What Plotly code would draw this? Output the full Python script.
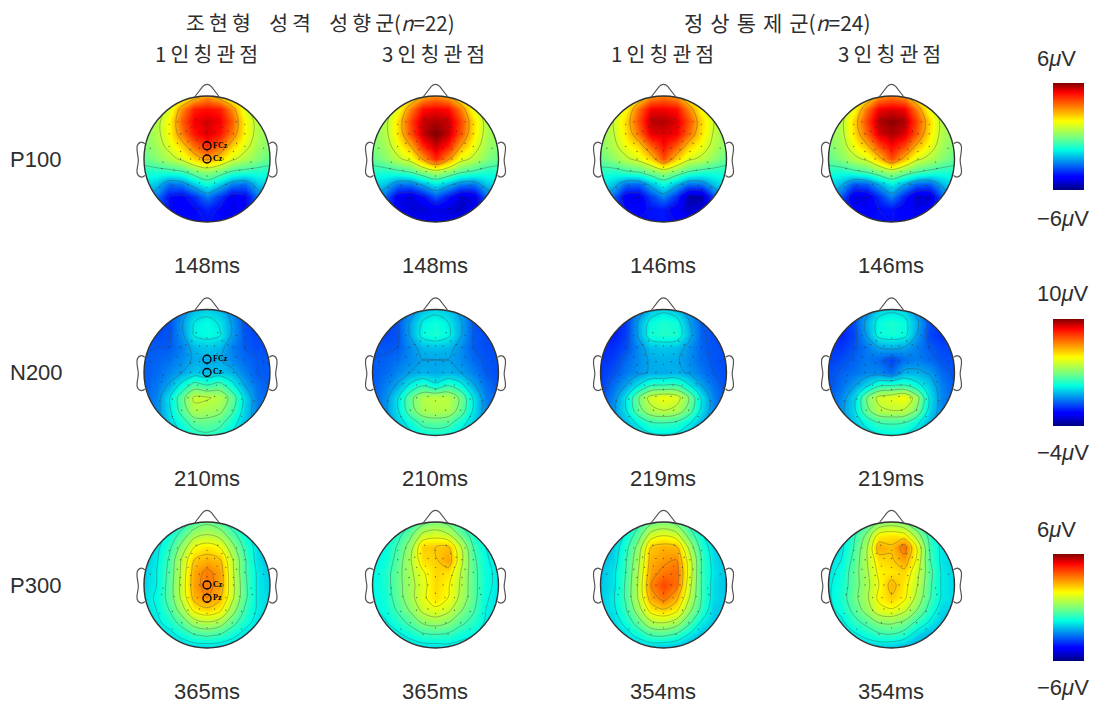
import math
import plotly.graph_objects as go

W, H = 1097, 706
GRID_X = [-1.0, -0.8, -0.6, -0.4, -0.2, 0.0, 0.2, 0.4, 0.6, 0.8, 1.0]
GRID_Y = [1.0, 0.8, 0.6, 0.4, 0.2, 0.0, -0.2, -0.4, -0.6, -0.8, -1.0]

# amplitudes (uV), rows top (front of head) to bottom
P100_A1 = [[0,.3,.7,1.2,2.2,3,2.2,1.2,.7,.3,0],
 [.2,.4,1.2,3.2,4.6,4.8,4.6,3.2,1.2,.4,.2],
 [.2,.7,1.7,3.8,5,5.3,5,3.8,1.7,.7,.2],
 [.1,.7,1.7,3.4,4.7,5.2,4.7,3.4,1.7,.7,.1],
 [0,.5,1.3,2.3,3.6,4.4,3.6,2.3,1.3,.5,0],
 [-.4,.1,.6,1.2,2.2,3,2.2,1.2,.6,.1,-.4],
 [-1.2,-1.2,-1.1,-.9,-.2,.2,-.2,-.9,-1.1,-1.2,-1.2],
 [-1.9,-2.2,-3.2,-3,-2.1,-1.3,-2.1,-3,-3.2,-2.2,-1.9],
 [-2.5,-3.2,-4.4,-4.6,-4,-3.1,-3.9,-4.8,-4.6,-3.2,-2.5],
 [-3.1,-3.6,-4.4,-4.7,-4.5,-4.1,-4.5,-4.9,-4.5,-3.6,-3.1],
 [-3.5,-3.8,-4.1,-4.3,-4.4,-4.4,-4.4,-4.4,-4.1,-3.8,-3.5]]
P100_A3 = [[0,.3,.8,1.5,2.7,3.2,2.7,1.5,.8,.3,0],
 [.2,.4,1.4,3.4,4.8,5,4.8,3.4,1.4,.4,.2],
 [.2,.7,2.1,4.1,5.4,5.6,5.4,4.1,2.1,.7,.2],
 [.1,.7,2,3.9,5.4,6,5.4,3.9,2,.7,.1],
 [0,.5,1.5,2.7,4.5,5.4,4.6,2.8,1.5,.5,0],
 [-.4,.1,.8,1.4,2.9,4.5,3,1.4,.8,.1,-.4],
 [-1.2,-1.2,-1,-.7,0,.6,.1,-.6,-.9,-1.2,-1.2],
 [-1.9,-2.2,-3.1,-3.1,-2.4,-1.7,-2.3,-3,-3.1,-2.2,-1.8],
 [-2.5,-3.4,-4.8,-5.1,-4.5,-3.5,-4.3,-5.2,-5,-3.4,-2.5],
 [-3.1,-3.8,-4.7,-5.1,-5.1,-4.9,-5.1,-5.3,-4.7,-3.8,-3.1],
 [-3.5,-3.9,-4.3,-4.6,-4.7,-4.8,-4.7,-4.6,-4.3,-3.9,-3.5]]
P100_B1 = [[.3,.5,.9,1.7,3,3.4,3,1.6,.9,.5,.3],
 [.4,.8,1.6,3.6,5,5,4.8,3.3,1.6,.8,.4],
 [.4,1,2.2,4,5.5,5.6,5.2,4,2.2,1,.4],
 [.2,.9,2,3.5,5.1,5.2,5,3.6,2,.9,.2],
 [.1,.7,1.5,2.2,3.7,4.8,3.8,2.3,1.5,.7,.1],
 [-.3,.2,.8,1.3,2.2,4,2.3,1.2,.8,.2,-.4],
 [-1.1,-1.2,-.9,-.7,-.1,.4,-.1,-.8,-1.1,-1.2,-1.2],
 [-1.7,-2.2,-3.2,-3.3,-2.3,-1.4,-2.3,-3.2,-3.1,-2.2,-1.6],
 [-2.4,-3.3,-4.8,-4.9,-3.8,-3,-4,-5.6,-5.6,-3.6,-2.4],
 [-3,-3.6,-4.4,-4.7,-4.3,-4.2,-4.7,-5.3,-4.9,-3.8,-3],
 [-3.3,-3.5,-3.9,-4.2,-4.3,-4.3,-4.4,-4.5,-4.1,-3.6,-3.3]]
P100_B3 = [[.2,.4,.9,1.6,3,3.4,3,1.6,.9,.4,.2],
 [.2,.6,1.5,3.5,5,5.2,5,3.4,1.4,.6,.2],
 [.3,.7,2.2,4.1,5.6,5.9,5.6,4.1,2.2,.7,.3],
 [.1,.7,2,3.7,5.2,5.6,5.2,3.8,2,.7,.1],
 [0,.5,1.5,2.5,4,4.9,4.1,2.6,1.5,.5,0],
 [-.4,.1,.7,1.2,2.4,4,2.5,1.2,.7,.1,-.4],
 [-1.2,-1.3,-1,-.7,-.1,.4,-.1,-.7,-1,-1.2,-1.2],
 [-1.8,-2.4,-3.5,-3.4,-2.5,-1.6,-2.5,-3.3,-3.4,-2.4,-1.7],
 [-2.5,-3.5,-5,-5,-4,-3,-4.2,-5.2,-5.2,-3.5,-2.5],
 [-3.1,-3.8,-4.5,-4.7,-4.4,-4.3,-4.7,-4.9,-4.6,-3.8,-3.1],
 [-3.4,-3.7,-4,-4.3,-4.4,-4.4,-4.4,-4.4,-4.1,-3.7,-3.4]]
N200_A1 = [[-1,-1,-.9,-.5,.3,.6,.3,-.4,-1,-1,-1],
 [-1.2,-1.3,-1.2,-.1,1,1.3,.9,-.1,-1.2,-1.4,-1.3],
 [-1,-1.2,-1.1,-.2,1.1,1.3,1.1,-.1,-1.1,-1.3,-1.3],
 [-1,-1,-1,-.5,.3,.5,.3,-.5,-1,-1.2,-1.2],
 [-1,-.9,-.7,-.3,.1,.1,.1,-.4,-.8,-1,-1.1],
 [-1,-.8,-.4,0,.5,.3,.5,.2,-.5,-1,-1],
 [-1,-.6,.1,1.3,2.4,2,2.4,1.3,0,-.7,-1],
 [-.9,-.4,.9,2.6,4.2,4.1,3.8,2.6,.7,-.6,-.9],
 [-.8,-.3,.8,2.4,3.7,3.6,3.3,2.2,.6,-.5,-.8],
 [-.6,-.2,.6,1.5,2.5,2.6,2.3,1.4,.4,-.4,-.7],
 [-.5,-.2,.3,.9,1.5,1.8,1.5,.8,.2,-.4,-.6]]
N200_A3 = [[-1,-1,-1,-.5,.4,.7,.4,-.3,-.9,-1,-1],
 [-1.3,-1.4,-1.1,.1,1.1,1.4,1,.1,-1.1,-1.4,-1.3],
 [-1.1,-1.3,-1.1,.1,1.3,1.6,1.2,.1,-1,-1.2,-1.2],
 [-1,-1.1,-1,-.3,.3,.4,.3,-.3,-1,-1.2,-1.2],
 [-1,-.9,-.7,-.3,0,0,0,-.3,-.8,-1.1,-1.2],
 [-1,-.8,-.4,0,.2,.1,.2,0,-.5,-1,-1.2],
 [-1,-.5,.1,1.2,1.9,1.2,1.9,1.3,.1,-.7,-1.1],
 [-.9,-.3,.9,2.7,3.8,4,3.9,2.8,.9,-.5,-1],
 [-.8,-.2,.9,2.6,3.6,3.8,3.7,2.6,.9,-.4,-.9],
 [-.6,-.2,.5,1.4,2.3,2.5,2.3,1.4,.5,-.4,-.8],
 [-.6,-.2,.2,.7,1.2,1.4,1.2,.7,.2,-.4,-.7]]
N200_B1 = [[-1.5,-1.5,-1.3,-.6,.4,.8,.4,-.4,-1.1,-1.2,-1.2],
 [-1.8,-1.9,-1.5,.1,1.3,1.6,1.4,.1,-1,-1.3,-1.3],
 [-1.8,-1.9,-1.4,.1,1.5,1.7,1.6,.3,-.9,-1.2,-1.2],
 [-1.7,-1.6,-1.2,-.3,.4,.5,.4,-.2,-.9,-1.1,-1.2],
 [-1.6,-1.4,-.8,-.3,.1,.2,.1,-.3,-.8,-1.1,-1.2],
 [-1.5,-1.1,-.6,-.2,.1,.1,.2,-.1,-.6,-1,-1.2],
 [-1.4,-.7,0,1,1.9,2,2.1,1.1,0,-.7,-1.2],
 [-1.2,-.4,.9,2.9,4.4,4.8,4.5,3,.9,-.5,-1.1],
 [-1,-.2,.9,2.6,3.7,4,3.7,2.6,.8,-.4,-1],
 [-.8,-.3,.3,1.2,1.9,2,1.8,1.1,.2,-.5,-.9],
 [-.7,-.4,-.1,.4,.8,.9,.8,.4,-.1,-.5,-.8]]
N200_B3 = [[-1.3,-1.3,-1,-.5,.6,.8,.6,-.4,-1.2,-1.3,-1.3],
 [-1.6,-1.7,-1.2,.2,1.3,1.6,1.3,.2,-1.2,-1.5,-1.4],
 [-1.6,-1.8,-1.3,0,1.3,1.5,1.3,0,-1.3,-1.6,-1.5],
 [-1.5,-1.5,-1.1,-.6,0,.2,0,-.5,-1,-1.3,-1.3],
 [-1.4,-1.2,-.9,-.6,-.8,-1.3,-.7,-.5,-.8,-1.1,-1.2],
 [-1.2,-.9,-.7,-.4,-.4,-.8,.2,.2,-.1,-.8,-1.1],
 [-1.1,-.7,-.1,.7,1.8,1.9,2,1.3,.5,-.5,-1],
 [-1,-.4,.6,2.9,4.3,4.6,5,3.5,.9,-.4,-1],
 [-.8,-.2,.7,2.7,3.8,4,3.9,2.9,.7,-.4,-.9],
 [-.7,-.2,.4,1.3,2,2.1,2,1.2,.2,-.4,-.8],
 [-.6,-.3,0,.5,.9,1.1,.9,.5,-.1,-.5,-.8]]
P300_A1 = [[-2.2,-2.1,-1.9,-1.3,-.6,-.2,-.6,-1.3,-1.9,-2.1,-2.3],
 [-2.2,-2,-1.4,-.5,.5,.8,.5,-.5,-1.4,-2,-2.3],
 [-2.2,-1.8,-1,.3,1.6,2,1.6,.3,-1,-1.9,-2.3],
 [-2.2,-1.7,-.7,.9,2.4,2.7,2.5,.9,-.7,-1.9,-2.3],
 [-2.1,-1.6,-.6,1,2.8,3.4,2.9,1,-.7,-1.7,-2.2],
 [-2,-1.6,-.5,1.1,2.9,3.5,2.9,1.1,-.6,-1.7,-2.1],
 [-1.9,-1.5,-.5,1,2.7,3.2,2.6,1,-.6,-1.7,-2],
 [-1.9,-1.6,-.8,.4,1.8,2.2,1.8,.4,-.9,-1.7,-2],
 [-2,-1.8,-1.3,-.5,.4,.7,.4,-.5,-1.3,-1.9,-2.1],
 [-2.2,-2.1,-1.9,-1.4,-.9,-.7,-.9,-1.4,-1.9,-2.1,-2.3],
 [-2.5,-2.4,-2.3,-2.2,-2.1,-2.1,-2.1,-2.2,-2.3,-2.4,-2.5]]
P300_A3 = [[-2,-1.9,-1.7,-1.1,-.3,0,-.3,-1.1,-1.7,-2,-2.2],
 [-1.9,-1.7,-1.1,-.2,1,1.3,.9,-.2,-1.2,-1.8,-2.1],
 [-1.8,-1.5,-.7,.4,2.3,2.4,2.5,.9,-.8,-1.6,-2],
 [-1.7,-1.4,-.5,.7,2.1,2.3,2.9,1.1,-.6,-1.5,-1.9],
 [-1.6,-1.2,-.3,.6,1.5,2.2,2.1,.8,-.5,-1.4,-1.8],
 [-1.6,-1.2,-.3,.5,1.3,2.2,1.7,.7,-.5,-1.4,-1.8],
 [-1.6,-1.3,-.4,.5,1.4,2.1,1.6,.6,-.5,-1.5,-1.9],
 [-1.7,-1.4,-.7,.1,1,1.4,1,.1,-.7,-1.6,-1.9],
 [-1.8,-1.7,-1.2,-.6,.1,.3,0,-.6,-1.1,-1.7,-2],
 [-2.1,-2,-1.8,-1.4,-1,-.9,-1,-1.4,-1.6,-1.9,-2.1],
 [-2.3,-2.3,-2.2,-2.1,-2,-2,-1.9,-1.9,-2,-2.1,-2.2]]
P300_B1 = [[-2.3,-2.2,-1.9,-1.1,-.3,0,-.3,-1.1,-1.8,-2.2,-2.4],
 [-2.4,-2.3,-1.5,-.4,1.1,1.5,1.1,-.3,-1.5,-2.2,-2.4],
 [-2.4,-2.1,-1.1,.3,2.4,2.7,2.6,.7,-1.1,-2,-2.4],
 [-2.3,-2,-.9,.6,2.7,3,3.2,1.3,-.8,-1.9,-2.3],
 [-2.2,-1.8,-.8,.8,2.9,3.4,3.6,1.4,-.8,-1.8,-2.2],
 [-2.2,-1.8,-.7,.9,3.2,4.1,3.5,1.2,-.8,-1.9,-2.3],
 [-2.1,-1.7,-.7,.9,2.8,3.5,2.7,.9,-.8,-1.9,-2.2],
 [-2.1,-1.8,-.9,.4,1.9,2.3,1.8,.3,-1,-2.1,-2.2],
 [-2.1,-2,-1.4,-.4,.6,.8,.4,-.6,-1.7,-2.2,-2.3],
 [-2.3,-2.2,-1.9,-1.4,-.8,-.7,-1,-1.7,-2.3,-2.4,-2.4],
 [-2.5,-2.4,-2.3,-2.3,-2.2,-2.3,-2.4,-2.6,-2.6,-2.6,-2.6]]
P300_B3 = [[-2.1,-2,-1.6,-.9,0,.3,-.1,-.9,-1.6,-2,-2.2],
 [-2,-1.9,-1,.1,1.8,2,1.8,.4,-1.1,-1.9,-2.2],
 [-2,-1.8,-.8,.6,2.8,2.5,3.6,1.6,-.8,-1.8,-2.1],
 [-1.9,-1.6,-.6,.7,2.1,2.3,2.9,1.5,-.7,-1.8,-2.1],
 [-1.8,-1.4,-.4,.6,1.8,2,2.2,1.1,-.5,-1.7,-2],
 [-1.7,-1.3,-.4,.5,1.6,2.7,1.9,.9,-.6,-1.7,-2],
 [-1.7,-1.2,-.3,.6,1.8,2.3,1.8,.6,-.7,-1.7,-2],
 [-1.8,-1.4,-.6,.3,1.3,1.5,1,0,-1.1,-2,-2.1],
 [-1.9,-1.8,-1.1,-.6,0,.1,-.2,-1,-1.7,-2.2,-2.2],
 [-2.2,-2.1,-1.8,-1.4,-1,-.9,-1.2,-2,-2.4,-2.4,-2.3],
 [-2.3,-2.3,-2.2,-2.2,-2.2,-2.3,-2.5,-2.7,-2.7,-2.7,-2.5]]

ROW_NAMES = ["P100", "N200", "P300"]
ROW_MAPS = [[P100_A1, P100_A3, P100_B1, P100_B3],
            [N200_A1, N200_A3, N200_B1, N200_B3],
            [P300_A1, P300_A3, P300_B1, P300_B3]]
ROW_TIMES = [["148ms", "148ms", "146ms", "146ms"],
             ["210ms", "210ms", "219ms", "219ms"],
             ["365ms", "365ms", "354ms", "354ms"]]
ROW_RANGE = [(-6, 6), (-4, 10), (-6, 6)]
ROW_LEVELS = [(-4.4, 3.0, 1.8), (-1, 4.1, 1.0), (-1.6, 3.2, 0.8)]
COLORBAR_TOP = ["6", "10", "6"]
COLORBAR_BOTTOM = ["\u22126", "\u22124", "\u22126"]
MARK_NAMES = [["FCz", "Cz"], ["FCz", "Cz"], ["Cz", "Pz"]]
MARK_Y = [[0.21, 0.0], [0.21, 0.0], [0.0, -0.21]]
# electrode positions, right half and midline (left mirrors right)
ELEC_R_X = [.17,.47,.6,.24,.12,.33,.42,.6,.16,.3,.47,.6,.12,.26,.42,.9,.12,.26,.42,.7,.15,.3,.52,.72,.12,.3,.55,.75,.16,.4,.2,.55]
ELEC_R_Y = [.63,.59,.55,.5,.42,.44,.4,.4,.3,.28,.25,.2,.17,.15,.12,.17,0,0,0,-.05,-.2,-.2,-.18,-.15,-.38,-.4,-.42,-.45,-.6,-.6,-.78,-.7]
ELEC_M_Y = [.55,.42,.28,.13,-.13,-.27,-.45,-.68]

JET = [[0, "#000080"], [.11, "#0000ff"], [.125, "#0000ff"], [.375, "#00ffe3"],
       [.5, "#80ff78"], [.64, "#fbff00"], [.66, "#ffee00"], [.89, "#ff1500"],
       [.91, "#ff0000"], [1, "#800000"]]

COL_X = [207, 435.5, 663.5, 891.5]
ROW_Y = [159, 372.5, 585]
RAD = 63.0
SPAN = 1.3
SANS = "Liberation Sans"
KR = "Noto Sans CJK KR"
INK = "#2e2e2e"

fig = go.Figure()
annots, shapes = [], []
layout = {}

def px(x): return x / W
def py(y): return 1 - y / H

def text(x, y, s, size, font=SANS, **kw):
    annots.append(dict(xref="paper", yref="paper", x=px(x), y=py(y), text=s, showarrow=False,
                       xanchor=kw.get("anchor", "center"), yanchor="middle",
                       font=dict(family=font, size=size, color=INK)))

circle = [(math.cos(i * math.pi / 90), math.sin(i * math.pi / 90)) for i in range(180)]
mask = "M-1.08,-1.08L1.08,-1.08L1.08,1.08L-1.08,1.08Z M" + "L".join(f"{a:.4f},{b:.4f}" for a, b in circle) + "Z"
NOSE = "M-.2,.98L-.07,1.15Q0,1.22 .07,1.15L.2,.98"
EAR_L = "M-.985,.24C-1.03,.28 -1.09,.28 -1.11,.2C-1.12,.1 -1.09,.05 -1.09,-.02C-1.09,-.1 -1.12,-.15 -1.11,-.22C-1.09,-.3 -1.02,-.3 -.985,-.26"
EAR_R = "M.985,.24C1.03,.28 1.09,.28 1.11,.2C1.12,.1 1.09,.05 1.09,-.02C1.09,-.1 1.12,-.15 1.11,-.22C1.09,-.3 1.02,-.3 .985,-.26"

n = 0
for r, maps in enumerate(ROW_MAPS):
    ca = "coloraxis" + ("" if r == 0 else str(r + 1))
    lo, hi = ROW_RANGE[r]
    top_y = [83, 319, 554][r]
    layout[ca] = dict(cmin=lo, cmax=hi, colorscale=JET,
                      colorbar=dict(x=px(1053), y=py(top_y), xanchor="left", yanchor="top",
                                    len=107 / H, lenmode="fraction", thickness=31, thicknessmode="pixels",
                                    xpad=0, ypad=0, outlinewidth=0, ticks="", showticklabels=False))
    s, e, d = ROW_LEVELS[r]
    for c, z in enumerate(maps):
        n += 1
        xa, ya = f"x{n}", f"y{n}"
        cx, cy = COL_X[c], ROW_Y[r]
        half = RAD * SPAN
        layout[f"xaxis{n}"] = dict(domain=[px(cx - half), px(cx + half)], range=[-SPAN, SPAN], visible=False, anchor=ya)
        layout[f"yaxis{n}"] = dict(domain=[py(cy + half), py(cy - half)], range=[-SPAN, SPAN], visible=False, anchor=xa)
        fig.add_trace(go.Contour(x=GRID_X, y=GRID_Y[::-1], z=z[::-1], coloraxis=ca, xaxis=xa, yaxis=ya,
                                 contours=dict(start=s, end=e, size=d, coloring="heatmap", showlines=True),
                                 line=dict(color="rgba(70,70,70,0.45)", width=0.8, smoothing=1),
                                 hoverinfo="skip"))
        ex = ELEC_R_X + [-v for v in ELEC_R_X] + [0] * len(ELEC_M_Y)
        ey = ELEC_R_Y + ELEC_R_Y + ELEC_M_Y
        fig.add_trace(go.Scatter(x=ex, y=ey, mode="markers", xaxis=xa, yaxis=ya, hoverinfo="skip",
                                 marker=dict(size=1.4, color="rgba(40,40,40,0.6)", line=dict(width=0))))
        if c == 0:
            fig.add_trace(go.Scatter(x=[0, 0], y=MARK_Y[r], text=MARK_NAMES[r], mode="markers+text",
                                     textposition="middle right", xaxis=xa, yaxis=ya, hoverinfo="skip",
                                     textfont=dict(family="Liberation Serif", size=8, color="black", weight="bold"),
                                     marker=dict(size=8, color="rgba(0,0,0,0)", line=dict(color="black", width=1.4))))
        shapes.append(dict(type="path", path=mask, xref=xa, yref=ya, fillcolor="white", line=dict(width=0), layer="above"))
        shapes.append(dict(type="circle", x0=-1, x1=1, y0=-1, y1=1, xref=xa, yref=ya,
                           line=dict(color="#333333", width=1.4), layer="above"))
        for p in (NOSE, EAR_L, EAR_R):
            shapes.append(dict(type="path", path=p, xref=xa, yref=ya, line=dict(color="#555555", width=1.2), layer="above"))
        text(cx - 0.5, cy + [106, 105.5, 106][r], ROW_TIMES[r][c], 22)
    text(8, ROW_Y[r], ROW_NAMES[r], 22, anchor="left")

GAP = "\u2009"
def spaced(word, gap=GAP): return gap.join(word)
WIDE = "\u00a0\u00a0\u00a0\u00a0"
text(320.5, 22, spaced("조현형") + WIDE + spaced("성격") + WIDE + spaced("성향군") + "(<i>n</i>=22)", 20.5, f"{KR}, {SANS}")
text(777.5, 22, spaced("정상통제군", "\u2004") + "(<i>n</i>=24)", 21, f"{KR}, {SANS}")
for x, w in zip([206, 433, 662, 889], ["1인칭관점", "3인칭관점", "1인칭관점", "3인칭관점"]):
    text(x, 52.5, spaced(w), 20.5, f"{KR}, {SANS}")
for r in range(3):
    text(1035, [58, 293, 529][r], COLORBAR_TOP[r] + "<i>\u03bc</i>V", 22, anchor="left")
    text(1035, [218, 452, 687][r], COLORBAR_BOTTOM[r] + "<i>\u03bc</i>V", 22, anchor="left")

fig.update_layout(width=W, height=H, margin=dict(l=0, r=0, t=0, b=0), paper_bgcolor="white",
                  plot_bgcolor="white", showlegend=False, annotations=annots, shapes=shapes, **layout)
fig.write_html("out.html", post_script="document.body.style.margin='0';", config={"displayModeBar": False})
